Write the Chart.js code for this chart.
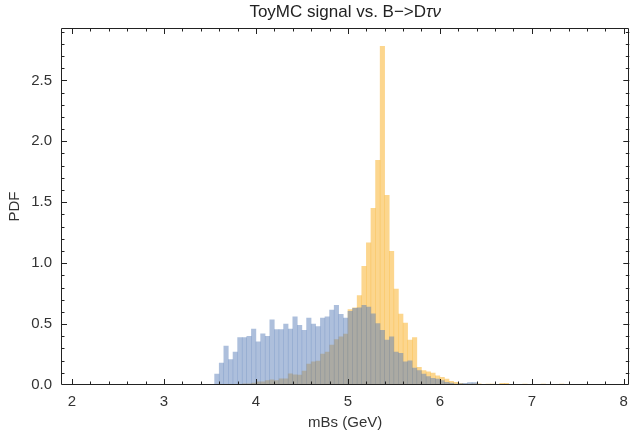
<!DOCTYPE html>
<html>
<head>
<meta charset="utf-8">
<script src="https://cdn.jsdelivr.net/npm/chart.js@4.4.1/dist/chart.umd.min.js"></script>
<style>
  html, body { margin: 0; padding: 0; background: #fff; }
  #wrap { width: 636px; height: 435px; }
</style>
</head>
<body>
<div id="wrap"><canvas id="histChart" width="636" height="435"></canvas></div>
<script>
// histogram bins: left edge of first bin and bin width (GeV)
const binStart = 3.55;
const binWidth = 0.05;

// ToyMC signal (blue), one value per bin starting at 3.55
const signalValues = [
  0.09, 0.18, 0.32, 0.21, 0.27, 0.39, 0.39, 0.40, 0.46, 0.355,
  0.42, 0.40, 0.535, 0.455, 0.455, 0.50, 0.46, 0.56, 0.49, 0.45,
  0.55, 0.50, 0.48, 0.55, 0.56, 0.615, 0.655, 0.58, 0.55, 0.605,
  0.63, 0.635, 0.655, 0.64, 0.585, 0.505, 0.45, 0.37, 0.395, 0.27,
  0.26, 0.19, 0.20, 0.14, 0.12, 0.09, 0.07, 0.055, 0.05, 0.036,
  0.022, 0.016, 0.008, 0.012, 0.015, 0.02, 0.02, 0, 0, 0,
  0, 0, 0, 0, 0, 0, 0, 0, 0, 0,
  0, 0, 0, 0, 0, 0, 0
];

// B->D tau nu (orange), same bins
const bdtaunuValues = [
  0, 0, 0, 0, 0, 0, 0.011, 0.011, 0.016, 0.027,
  0.027, 0.036, 0.044, 0.036, 0.052, 0.052, 0.093, 0.085, 0.082, 0.115,
  0.172, 0.19, 0.196, 0.254, 0.27, 0.328, 0.374, 0.396, 0.418, 0.62,
  0.635, 0.735, 0.975, 1.167, 1.45, 1.844, 2.78, 1.557, 1.098, 0.787,
  0.582, 0.508, 0.369, 0.39, 0.145, 0.118, 0.109, 0.098, 0.076, 0.063,
  0.049, 0.03, 0.022, 0.014, 0.008, 0.008, 0.01, 0.01, 0, 0.008,
  0.008, 0, 0.015, 0.015, 0, 0, 0, 0.008, 0, 0,
  0, 0.008, 0, 0, 0, 0.008, 0
];

const xTickValues = [2, 3, 4, 5, 6, 7, 8];
const yTickValues = [0, 0.5, 1.0, 1.5, 2.0, 2.5];
const xRange = [1.88, 8.06];
const yRange = [0, 2.93];

document.addEventListener('DOMContentLoaded', function () {
    const ctx = document.getElementById('histChart').getContext('2d');
    const fontFamily = "'Liberation Sans', Arial, sans-serif";
    const labelFont = { family: fontFamily, size: 15 };

    function toPoints(values) {
        return values.map((v, i) => ({ x: binStart + (i + 0.5) * binWidth, y: v }));
    }

    // Mathematica-like frame with inward ticks on all four sides, plus the title
    const frameTicks = {
        id: 'frameTicks',
        afterDraw(chart) {
            const c = chart.ctx;
            const a = chart.chartArea;
            const xs = chart.scales.x;
            const ys = chart.scales.y;
            c.save();
            c.strokeStyle = '#222';
            c.lineWidth = 1;
            c.beginPath();
            c.rect(Math.round(a.left) + 0.5, Math.round(a.top) + 0.5,
                   Math.round(a.right - a.left) - 1, Math.round(a.bottom - a.top) - 1);
            c.stroke();

            c.beginPath();
            for (let k = 10; k <= 40; k += 1) {
                const v = k / 5;
                const major = k % 5 === 0;
                const len = major ? 6 : 3.5;
                const px = Math.round(xs.getPixelForValue(v)) + 0.5;
                if (px < a.left || px > a.right) continue;
                c.moveTo(px, a.bottom); c.lineTo(px, a.bottom - len);
                c.moveTo(px, a.top); c.lineTo(px, a.top + len);
            }
            for (let k = 0; k <= 29; k++) {
                const v = k / 10;
                const major = k % 5 === 0;
                const len = major ? 6 : 3.5;
                const py = Math.round(ys.getPixelForValue(v)) + 0.5;
                if (py < a.top || py > a.bottom) continue;
                c.moveTo(a.left, py); c.lineTo(a.left + len, py);
                c.moveTo(a.right, py); c.lineTo(a.right - len, py);
            }
            c.stroke();

            // title with italic tau nu
            const main = 'ToyMC signal vs. B\u2212>D';
            const ital = '\u03c4\u03bd';
            const upright = '17px ' + fontFamily;
            const italic = 'italic 17px ' + fontFamily;
            c.fillStyle = '#222';
            c.textBaseline = 'middle';
            c.font = upright;
            const w1 = c.measureText(main).width;
            c.font = italic;
            const w2 = c.measureText(ital).width;
            const x0 = (a.left + a.right) / 2 - (w1 + w2) / 2;
            c.textAlign = 'left';
            c.font = upright;
            c.fillText(main, x0, 12);
            c.font = italic;
            c.fillText(ital, x0 + w1, 12);
            c.restore();
        }
    };

    new Chart(ctx, {
        type: 'bar',
        data: {
            datasets: [
                {
                    label: 'ToyMC signal',
                    data: toPoints(signalValues),
                    backgroundColor: 'rgba(91, 127, 185, 0.5)',
                    borderWidth: 0,
                    inflateAmount: 0.25,
                    order: 0
                },
                {
                    label: 'B->D\u03c4\u03bd',
                    data: toPoints(bdtaunuValues),
                    backgroundColor: 'rgba(249, 173, 29, 0.5)',
                    borderWidth: 0,
                    inflateAmount: 0.25,
                    order: 1
                }
            ]
        },
        options: {
            responsive: false,
            animation: false,
            events: [],
            grouped: false,
            barPercentage: 1,
            categoryPercentage: 1,
            layout: { padding: { top: 28, right: 4, left: 0, bottom: 0 } },
            plugins: {
                legend: { display: false },
                tooltip: { enabled: false },
                title: { display: false }
            },
            scales: {
                x: {
                    type: 'linear',
                    min: xRange[0],
                    max: xRange[1],
                    offset: false,
                    grid: { display: false, drawTicks: false },
                    border: { display: false },
                    afterBuildTicks: s => { s.ticks = xTickValues.map(v => ({ value: v })); },
                    afterFit: s => { s.height = 50; },
                    ticks: {
                        font: labelFont,
                        color: '#333',
                        padding: 8,
                        maxRotation: 0,
                        autoSkip: false,
                        callback: v => String(v)
                    },
                    title: {
                        display: true,
                        text: 'mBs (GeV)',
                        font: labelFont,
                        color: '#333',
                        padding: { top: 0, bottom: 3 }
                    }
                },
                y: {
                    min: yRange[0],
                    max: yRange[1],
                    grid: { display: false, drawTicks: false },
                    border: { display: false },
                    afterBuildTicks: s => { s.ticks = yTickValues.map(v => ({ value: v })); },
                    afterFit: s => { s.width = 61; },
                    ticks: {
                        font: labelFont,
                        color: '#333',
                        padding: 9,
                        autoSkip: false,
                        callback: v => Number(v).toFixed(1)
                    },
                    title: {
                        display: true,
                        text: 'PDF',
                        font: labelFont,
                        color: '#333',
                        padding: { top: 6, bottom: 0 }
                    }
                }
            }
        },
        plugins: [frameTicks]
    });
});
</script>
</body>
</html>
